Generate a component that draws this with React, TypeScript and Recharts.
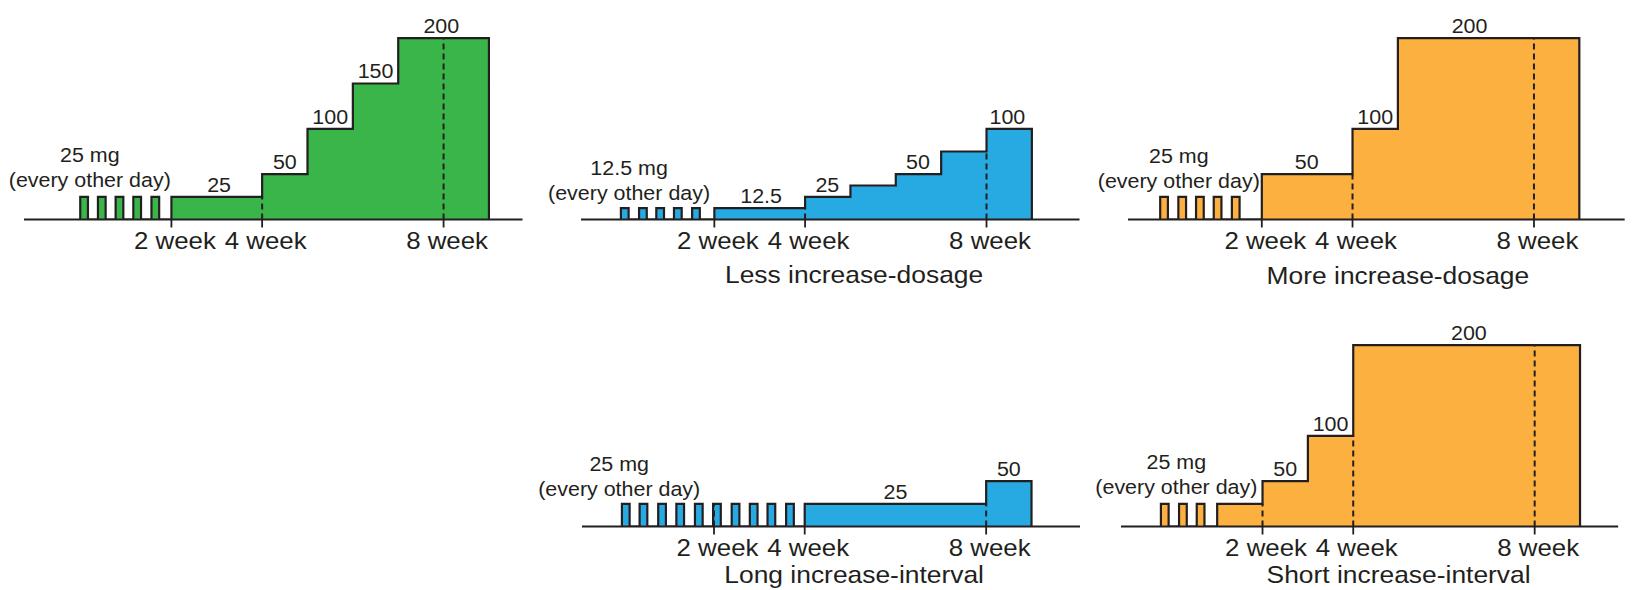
import { ComposedChart, Area, XAxis, YAxis, ReferenceLine, ReferenceDot } from 'recharts'

const INK = '#231f20'
const GREEN = '#39b54a'
const BLUE = '#27aae1'
const ORANGE = '#fbb040'
const FONT = '"Liberation Sans", Arial, Helvetica, sans-serif'
// the source figure's lettering is a little wide
const TEXT_STRETCH = 1.1

const weekTicks = [2, 4, 8]
const endWeek = 9
const pulseWeeks = 0.17

// every-other-day starting doses (week each dose begins)
const greenPulses = [-0.01, 0.38, 0.77, 1.16, 1.56]
const lessPulses = [-0.06, 0.34, 0.72, 1.11, 1.51]
const morePulses = [-0.24, 0.16, 0.55, 0.94, 1.34]
const longPulses = [-0.03, 0.36, 0.77, 1.17, 1.58, 1.98, 2.39, 2.79, 3.18, 3.59]
const shortPulses = [-0.24, 0.16, 0.55]

// daily dose steps: week the step starts, dose in mg
const greenStepWeeks = [2, 4, 5, 6, 7]
const greenStepDoses = [25, 50, 100, 150, 200]
const lessStepWeeks = [2, 4, 5, 6, 7, 8]
const lessStepDoses = [12.5, 25, 37.5, 50, 75, 100]
const moreStepWeeks = [2, 4, 5]
const moreStepDoses = [50, 100, 200]
const longStepWeeks = [4, 8]
const longStepDoses = [25, 50]
const shortStepWeeks = [1, 2, 3, 4]
const shortStepDoses = [25, 50, 100, 200]

// dose labels written above the steps
const greenLabels = [
  { w: 3.05, mg: 25, text: '25' },
  { w: 4.5, mg: 50, text: '50' },
  { w: 5.5, mg: 100, text: '100' },
  { w: 6.5, mg: 150, text: '150' },
  { w: 7.95, mg: 200, text: '200' },
]
const lessLabels = [
  { w: 3.03, mg: 12.5, text: '12.5' },
  { w: 4.49, mg: 25, text: '25' },
  { w: 6.49, mg: 50, text: '50' },
  { w: 8.46, mg: 100, text: '100' },
]
const moreLabels = [
  { w: 2.99, mg: 50, text: '50' },
  { w: 4.5, mg: 100, text: '100' },
  { w: 6.58, mg: 200, text: '200' },
]
const longLabels = [
  { w: 6, mg: 25, text: '25' },
  { w: 8.5, mg: 50, text: '50' },
]
const shortLabels = [
  { w: 2.5, mg: 50, text: '50' },
  { w: 3.5, mg: 100, text: '100' },
  { w: 6.55, mg: 200, text: '200' },
]

const PX_PER_WEEK = 45.36
const MG_MAX = 220
const PLOT_H = 199.5
const SIDE = 50
const TOP = 12

type Seg = { from: number; to: number; mg: number }

function toSegments(pulses: number[], pulseDose: number, stepWeeks: number[], stepDoses: number[]): Seg[] {
  const segs: Seg[] = pulses.map(p => ({ from: p, to: p + pulseWeeks, mg: pulseDose }))
  stepWeeks.forEach((w, i) => {
    segs.push({ from: w, to: stepWeeks[i + 1] ?? endWeek, mg: stepDoses[i] })
  })
  return segs
}

// points for a stepAfter area, dropping to 0 in the gaps
function toStepPoints(segs: Seg[]) {
  const pts: { w: number; mg: number }[] = []
  segs.forEach((s, i) => {
    const prev = segs[i - 1]
    const next = segs[i + 1]
    if (!prev || prev.to < s.from - 1e-6) pts.push({ w: s.from, mg: 0 })
    pts.push({ w: s.from, mg: s.mg })
    if (!next || next.from > s.to + 1e-6) pts.push({ w: s.to, mg: 0 })
  })
  return pts
}

// dashed guide at a week tick when the dose runs through it
function dashedGuides(segs: Seg[]) {
  const level = (w: number) => segs.find(s => s.from <= w && w < s.to)?.mg ?? 0
  return weekTicks
    .map(t => ({ w: t, mg: Math.min(level(t - 0.01), level(t + 0.01)) }))
    .filter(d => d.mg > 0)
}

function textLabel(lines: string[], dy: number, size: number, gap = 25) {
  return (props: any) => {
    const vb = props.viewBox || {}
    const cx = (vb.x ?? 0) + (vb.width ?? 0) / 2
    const cy = (vb.y ?? 0) + (vb.height ?? 0) / 2
    const y0 = cy + dy - gap * (lines.length - 1)
    return (
      <text
        transform={`translate(${cx} ${y0}) scale(${TEXT_STRETCH} 1)`}
        textAnchor="middle"
        fontSize={size}
        fontFamily={FONT}
        fill={INK}
      >
        {lines.map((l, i) => (
          <tspan key={i} x={0} dy={i ? gap : 0}>{l}</tspan>
        ))}
      </text>
    )
  }
}

function WeekTick(props: any) {
  const { x, y, payload } = props
  return (
    <text
      transform={`translate(${x + 3.5} ${y + 20}) scale(${TEXT_STRETCH} 1)`}
      textAnchor="middle"
      fontSize={23.5}
      fontFamily={FONT}
      fill={INK}
    >
      {`${payload.value} week`}
    </text>
  )
}

const panels = [
  {
    key: 'start', color: GREEN, segs: toSegments(greenPulses, 25, greenStepWeeks, greenStepDoses),
    labels: greenLabels, note: '25 mg', noteW: 0.2, noteLift: 32.3, title: '', titleW: 5,
    left: 24, axisY: 219, domain: [-1.25, 9.74], axisH: 72, titleGap: 64,
  },
  {
    key: 'less', color: BLUE, segs: toSegments(lessPulses, 12.5, lessStepWeeks, lessStepDoses),
    labels: lessLabels, note: '12.5 mg', noteW: 0.12, noteLift: 19.7, title: 'Less increase-dosage', titleW: 5.08,
    left: 580.8, axisY: 219, domain: [-0.94, 10.05], axisH: 72, titleGap: 64,
  },
  {
    key: 'more', color: ORANGE, segs: toSegments(morePulses, 25, moreStepWeeks, moreStepDoses),
    labels: moreLabels, note: '25 mg', noteW: 0.17, noteLift: 31.7, title: 'More increase-dosage', titleW: 5.0,
    left: 1128.3, axisY: 219, domain: [-0.95, 10.0], axisH: 72, titleGap: 65,
  },
  {
    key: 'long', color: BLUE, segs: toSegments(longPulses, 25, longStepWeeks, longStepDoses),
    labels: longLabels, note: '25 mg', noteW: -0.09, noteLift: 30.7, title: 'Long increase-interval', titleW: 5.09,
    left: 582.2, axisY: 526.5, domain: [-0.91, 10.07], axisH: 62, titleGap: 56.8,
  },
  {
    key: 'short', color: ORANGE, segs: toSegments(shortPulses, 25, shortStepWeeks, shortStepDoses),
    labels: shortLabels, note: '25 mg', noteW: 0.1, noteLift: 32.7, title: 'Short increase-interval', titleW: 5.0,
    left: 1120.6, axisY: 526.5, domain: [-1.12, 9.84], axisH: 62, titleGap: 56.8,
  },
]

type Panel = (typeof panels)[number]

function DosePanel({ p }: { p: Panel }) {
  const pts = toStepPoints(p.segs)
  const dashes = dashedGuides(p.segs)
  const plotW = (p.domain[1] - p.domain[0]) * PX_PER_WEEK
  const width = plotW + 2 * SIDE
  const height = TOP + PLOT_H + p.axisH
  return (
    <div style={{ position: 'absolute', left: p.left - SIDE, top: p.axisY - PLOT_H - TOP, width, height }}>
      <ComposedChart width={width} height={height} data={pts} margin={{ top: TOP, right: SIDE, bottom: 0, left: SIDE }}>
        <XAxis
          type="number"
          dataKey="w"
          domain={p.domain}
          allowDataOverflow
          ticks={weekTicks}
          interval={0}
          tick={<WeekTick />}
          tickSize={8}
          tickLine={{ stroke: INK, strokeWidth: 1.8 }}
          axisLine={{ stroke: INK, strokeWidth: 2.2 }}
          height={p.axisH}
        />
        <YAxis hide type="number" domain={[0, MG_MAX]} allowDataOverflow />
        <Area
          type="stepAfter"
          dataKey="mg"
          stroke={INK}
          strokeWidth={2.2}
          fill={p.color}
          fillOpacity={1}
          dot={false}
          activeDot={false}
          isAnimationActive={false}
        />
        {dashes.map(d => (
          <ReferenceLine
            key={`d${d.w}`}
            segment={[{ x: d.w, y: 0 }, { x: d.w, y: d.mg }]}
            stroke={INK}
            strokeWidth={2}
            strokeDasharray="6 4"
          />
        ))}
        {p.labels.map(l => (
          <ReferenceDot key={`l${l.w}`} x={l.w} y={l.mg} r={0} fill="none" stroke="none" label={textLabel([l.text], -5, 19.5)} />
        ))}
        <ReferenceDot x={p.noteW} y={0} r={0} fill="none" stroke="none" label={textLabel([p.note, '(every other day)'], -p.noteLift, 19.5)} />
        {p.title && (
          <ReferenceDot x={p.titleW} y={0} r={0} fill="none" stroke="none" label={textLabel([p.title], p.titleGap, 24)} />
        )}
      </ComposedChart>
    </div>
  )
}

export default function App() {
  return (
    <div style={{ position: 'fixed', left: 0, top: 0, width: 1636, height: 590, background: '#fff', overflow: 'hidden' }}>
      {panels.map(p => (
        <DosePanel key={p.key} p={p} />
      ))}
    </div>
  )
}
